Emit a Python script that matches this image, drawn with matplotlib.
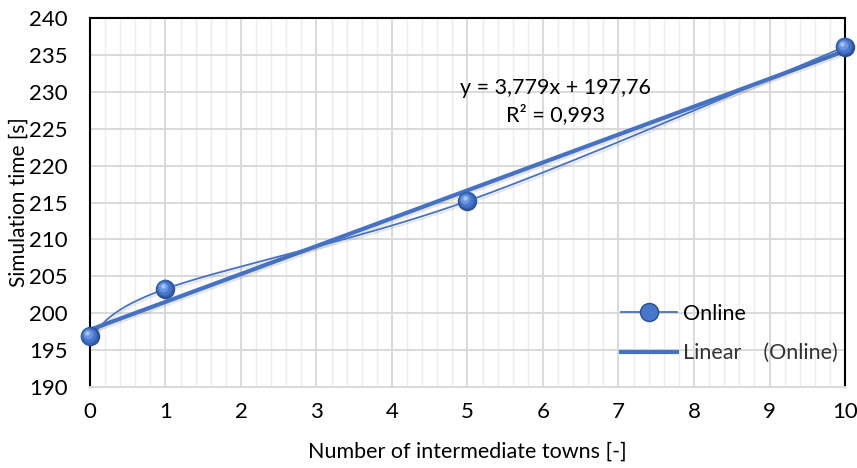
import numpy as np
import matplotlib
matplotlib.use("Agg")
from matplotlib import pyplot as plt
import matplotlib.transforms as mtransforms
import matplotlib.patheffects as pe

plt.rcParams['font.family'] = ['Lato', 'DejaVu Sans']

# data
towns = [0, 1, 5, 10]
sim_time = [196.9, 203.3, 215.2, 236.1]
x_ticks = [0, 1, 2, 3, 4, 5, 6, 7, 8, 9, 10]
y_ticks = [190, 195, 200, 205, 210, 215, 220, 225, 230, 235, 240]
eq_text = "y = 3,779x + 197,76"
r2_text = "R² = 0,993"

BLUE = '#4472C4'


# Excel-like smoothed line: bezier segments with control points from neighbours
def smooth_curve(xs, ys, n=60):
    pts = np.column_stack([xs, ys]).astype(float)
    ext = np.vstack([pts[0], pts, pts[-1]])
    out = []
    for i in range(len(pts) - 1):
        p0, p1, p2, p3 = ext[i], ext[i + 1], ext[i + 2], ext[i + 3]
        c1 = p1 + (p2 - p0) / 6.0
        c2 = p2 - (p3 - p1) / 6.0
        t = np.linspace(0, 1, n)[:, None]
        seg = ((1 - t) ** 3) * p1 + 3 * ((1 - t) ** 2) * t * c1 + 3 * (1 - t) * t ** 2 * c2 + t ** 3 * p2
        out.append(seg if i == 0 else seg[1:])
    out = np.vstack(out)
    return out[:, 0], out[:, 1]


fig = plt.figure(figsize=(8.57, 4.68), dpi=100)
ax = fig.add_axes([0.105, 0.173, 0.881, 0.7885])

ax.set_xlim(0, 10)
ax.set_ylim(190, 240)
ax.set_xticks(x_ticks)
ax.set_yticks(y_ticks)
ax.set_xticks(np.arange(0, 10.01, 0.2), minor=True)
ax.grid(which='major', color='#d9d9d9', lw=1.4)
ax.grid(which='minor', axis='x', color='#ececec', lw=1.0)
ax.set_axisbelow(True)
ax.tick_params(which='both', length=0, labelsize=16, colors='black')
ax.tick_params(axis='y', pad=16)
ax.tick_params(axis='x', pad=11)
for s in ['left', 'top', 'right']:
    ax.spines[s].set_color('black')
    ax.spines[s].set_linewidth(1.5)
ax.spines['bottom'].set_color('#d9d9d9')
ax.spines['bottom'].set_linewidth(1.4)

shadow = [pe.SimpleLineShadow(offset=(1.2, -1.5), alpha=0.15, shadow_color='#555555'), pe.Normal()]

# linear trendline
k, b = np.polyfit(towns, sim_time, 1)
xt = np.array([0, 10])
ax.plot(xt, k * xt + b, color=BLUE, lw=3, solid_capstyle='butt', path_effects=shadow, zorder=3)

# smoothed data line
sx, sy = smooth_curve(towns, sim_time)
ax.plot(sx, sy, color=BLUE, lw=1.3, path_effects=shadow, zorder=4)

# sphere-ish markers: stacked circles getting lighter toward top-left
layers = [(14, '#2b4f8f', 0, 0), (12.6, '#3461b0', -0.4, 0.4), (10.2, '#4677cc', -0.8, 0.8),
          (7, '#6a96e0', -1.5, 1.5), (3.2, '#a9c4f0', -2.1, 2.1)]
for ms, col, dx, dy in layers:
    tr = ax.transData + mtransforms.ScaledTranslation(dx / 72, dy / 72, fig.dpi_scale_trans)
    ax.plot(towns, sim_time, ls='none', marker='o', ms=ms, mfc=col, mec='none',
            transform=tr, zorder=5, clip_on=False)

ax.text(6.16, 230.5, eq_text, ha='center', va='center', fontsize=15.5)
ax.text(6.16, 226.9, r2_text, ha='center', va='center', fontsize=15.5)

ax.set_xlabel('Number of intermediate towns [-]', fontsize=15.5, labelpad=14)
ax.set_ylabel('Simulation time [s]', fontsize=15, labelpad=0)

# legend drawn by hand-made proxies
h1, = ax.plot([], [], color=BLUE, lw=1.3, marker='o', ms=13, mfc='#4677cc', mec='#2b4f8f')
h2, = ax.plot([], [], color=BLUE, lw=3)
leg = ax.legend([h1, h2], ['Online', 'Linear    (Online)'], loc='lower right',
                frameon=False, fontsize=15.5, handlelength=2.6, handletextpad=0.3,
                borderaxespad=0.2, labelspacing=0.9, bbox_to_anchor=(1.008, 0.03))
leg.get_texts()[1].set_color('#333333')

fig.savefig('out.png', dpi=100)
